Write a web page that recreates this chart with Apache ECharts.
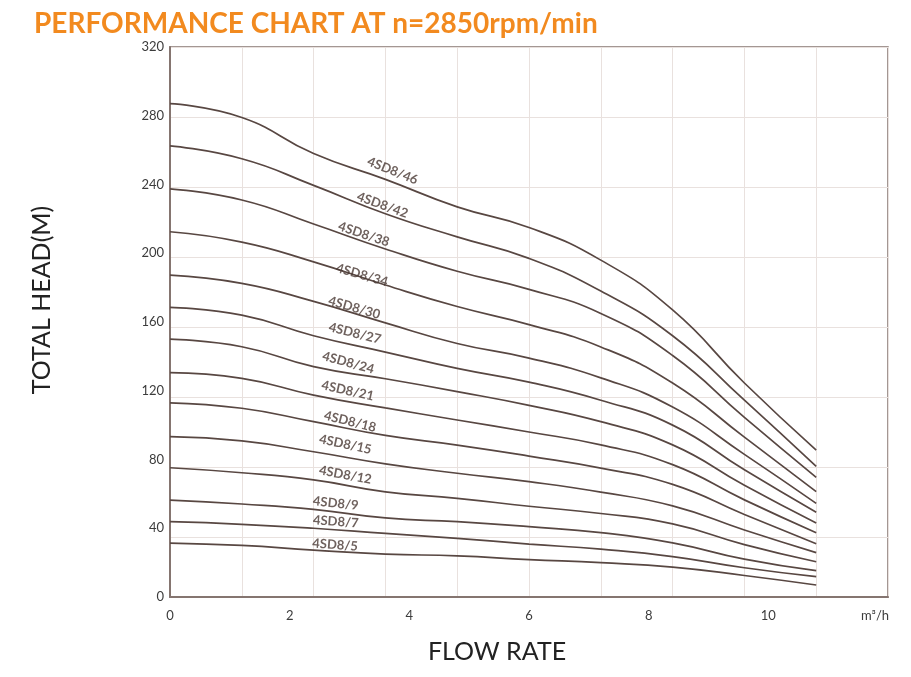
<!DOCTYPE html>
<html>
<head>
<meta charset="utf-8">
<script src="https://cdn.jsdelivr.net/npm/echarts@6/dist/echarts.min.js"></script>
<style>
  html, body { margin: 0; padding: 0; background: #ffffff; }
  #chart { width: 911px; height: 677px; }
</style>
</head>
<body>
<div id="chart"></div>
<script>
// Flow rate sample points (m³/h)
const flow = [0, 1.2, 2.4, 3.6, 4.8, 6.0, 7.2, 8.4, 9.6, 10.8];

// Total head (m) per model, read at each flow sample
const h46 = [287, 279, 258, 243, 227, 215, 196, 167, 124.5, 85.5];
const h42 = [262.5, 255, 239.5, 223, 209.5, 197, 178, 152, 114.5, 76];
const h38 = [237.5, 231, 217, 202.5, 189.5, 179, 165, 140.5, 104.5, 69.6];
const h34 = [212.5, 206.5, 195, 181.5, 169, 158.5, 145.5, 124.5, 93, 61.3];
const h30 = [187.3, 182.5, 172, 159.5, 147.5, 139, 127.5, 110.5, 83, 54.5];
const h27 = [168.5, 164, 152, 142.5, 133, 125, 114.5, 100, 74, 49.3];
const h24 = [150, 145.6, 134, 127, 119.5, 111.5, 102, 88.5, 65, 43];
const h21 = [130.5, 127.2, 117.5, 110, 103, 96, 88.5, 77, 56.5, 37.4];
const h18 = [113, 109.8, 102, 94, 88.4, 82, 75, 65.5, 48, 31];
const h15 = [93.3, 90.8, 84.5, 77.5, 72, 67.1, 61, 53, 39, 25.8];
const h12 = [75.2, 72.3, 68.1, 61.2, 57.4, 52.8, 48.6, 42.5, 30.5, 20.5];
const h9  = [56.4, 54.1, 51, 46, 43.8, 40.9, 37.5, 31.5, 22, 15.3];
const h7  = [43.8, 42.3, 40, 37, 34.1, 30.8, 27.8, 23.5, 17, 11.8];
const h5  = [31.4, 30, 27.3, 25, 23.9, 21.8, 20, 17.4, 12.5, 7.0];

const modelNames = ['4SD8/46','4SD8/42','4SD8/38','4SD8/34','4SD8/30','4SD8/27','4SD8/24',
                    '4SD8/21','4SD8/18','4SD8/15','4SD8/12','4SD8/9','4SD8/7','4SD8/5'];
const modelHeads = [h46, h42, h38, h34, h30, h27, h24, h21, h18, h15, h12, h9, h7, h5];

// Curve label anchors (data coordinates: flow, head) and tilt
const labelFlow = [3.72, 3.55, 3.24, 3.21, 3.08, 3.09, 2.98, 2.97, 3.01, 2.93, 2.93, 2.77, 2.77, 2.76];
const labelHead = [248, 228, 211, 187.3, 168.3, 153.4, 136.3, 120, 102, 88.8, 71, 54.5, 43.8, 30.3];
const labelAngle = [-22, -20, -18.5, -16, -16, -14, -15.5, -12.5, -14, -12, -10.5, -6, -4, -4];

// Axis ticks
const xLabelTicks = { min: 0, max: 12, step: 2 };
const xGridTicks = { min: 0, max: 12, step: 1.2 };
const yLabelTicks = { min: 0, max: 320, step: 40 };

const LINE = '#584742';
const AXIS = '#857570';
const GRID = '#e9e1de';
const FONT = 'Lato, "Noto Sans", sans-serif';

const chart = echarts.init(document.getElementById('chart'), null, { renderer: 'canvas' });

const series = modelNames.map((name, i) => ({
  name: name,
  type: 'line',
  xAxisIndex: 0,
  yAxisIndex: 0,
  data: flow.map((f, j) => [f, modelHeads[i][j]]),
  smooth: 0.5,
  symbol: 'none',
  lineStyle: { color: LINE, width: 1.7 },
  z: 3
}));

series.push({
  name: 'labels',
  type: 'scatter',
  xAxisIndex: 0,
  yAxisIndex: 0,
  symbolSize: 1,
  itemStyle: { color: 'rgba(0,0,0,0)' },
  silent: true,
  z: 5,
  data: modelNames.map((name, i) => ({
    value: [labelFlow[i], labelHead[i]],
    name: name,
    label: { rotate: labelAngle[i] }
  })),
  label: {
    show: true,
    position: 'inside',
    formatter: p => p.name,
    color: '#4a3a35',
    fontFamily: FONT,
    fontWeight: 'bold',
    fontSize: 13
  }
});

chart.setOption({
  animation: false,
  backgroundColor: '#ffffff',
  title: {
    text: 'PERFORMANCE CHART AT n=2850rpm/min',
    left: 29,
    top: 5,
    textStyle: { color: '#f28a1f', fontSize: 28, fontWeight: 'bold', fontFamily: FONT }
  },
  grid: {
    left: 170, right: 23, top: 47, bottom: 80,
    show: true, borderColor: AXIS, borderWidth: 1.5, backgroundColor: 'transparent'
  },
  xAxis: [
    {
      type: 'value',
      min: xLabelTicks.min, max: xLabelTicks.max, interval: xLabelTicks.step,
      name: 'FLOW RATE',
      nameLocation: 'middle',
      nameGap: 42,
      nameTextStyle: { color: '#222', fontSize: 25, fontFamily: FONT, padding: [0, 64, 0, 0] },
      axisLine: { show: true, lineStyle: { color: AXIS, width: 2 } },
      axisTick: { show: false },
      splitLine: { show: false },
      axisLabel: {
        margin: 12,
        color: '#3c3c3c',
        fontSize: 13,
        fontFamily: FONT,
        showMaxLabel: true,
        formatter: v => (v === 12 ? '{u|m³/h}' : String(v)),
        rich: { u: { fontSize: 13, color: '#3c3c3c', fontFamily: FONT, padding: [0, 26, 0, 0] } }
      }
    },
    {
      type: 'value',
      min: xGridTicks.min, max: xGridTicks.max, interval: xGridTicks.step,
      position: 'bottom',
      axisLine: { show: false },
      axisTick: { show: false },
      axisLabel: { show: false },
      splitLine: { show: true, lineStyle: { color: GRID, width: 1 } }
    }
  ],
  yAxis: [
    {
      type: 'value',
      min: yLabelTicks.min, max: yLabelTicks.max, interval: yLabelTicks.step,
      name: 'TOTAL HEAD(M)',
      nameLocation: 'middle',
      nameRotate: 90,
      nameGap: 116,
      nameTextStyle: { color: '#222', fontSize: 25, fontFamily: FONT, padding: [0, 0, 0, 44] },
      axisLine: { show: true, lineStyle: { color: AXIS, width: 2 } },
      axisTick: { show: false },
      splitLine: { show: false },
      axisLabel: { margin: 6, color: '#3c3c3c', fontSize: 13, fontFamily: FONT }
    },
    {
      type: 'value',
      min: 0, max: 550, interval: 70,
      inverse: true,
      position: 'left',
      axisLine: { show: false },
      axisTick: { show: false },
      axisLabel: { show: false },
      splitLine: { show: true, lineStyle: { color: GRID, width: 1 } }
    }
  ],
  series: series
});
</script>
</body>
</html>
